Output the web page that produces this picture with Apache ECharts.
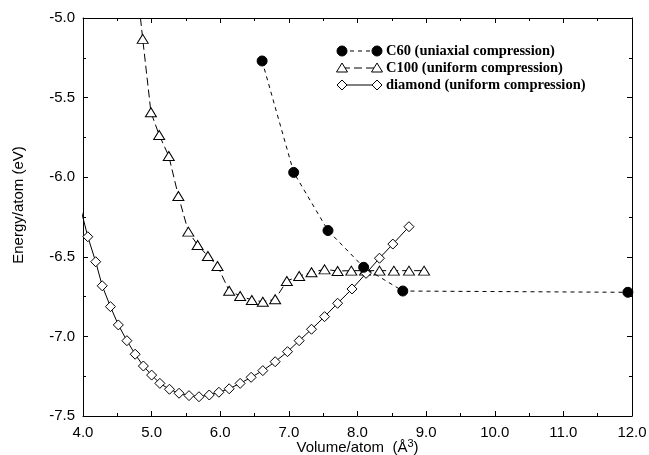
<!DOCTYPE html>
<html>
<head>
<meta charset="utf-8">
<script src="https://cdn.jsdelivr.net/npm/echarts@6/dist/echarts.min.js"></script>
<style>
  html, body { margin: 0; padding: 0; background: #fff; }
  #chart { width: 649px; height: 455px; }
</style>
</head>
<body>
<div id="chart"></div>
<script>
// values
const xTicks = [4, 5, 6, 7, 8, 9, 10, 11, 12];
const yTicks = [-7.5, -7.0, -6.5, -6.0, -5.5, -5.0];

const c60Vol = [6.61, 7.07, 7.57, 8.09, 8.66, 11.94];
const c60Energy = [-5.27, -5.97, -6.335, -6.566, -6.715, -6.723];

// first point lies outside the frame (the line runs off the top)
const c100Vol = [4.80, 4.87, 4.99, 5.11, 5.25, 5.39, 5.535, 5.67, 5.82, 5.96, 6.13, 6.29, 6.46, 6.62, 6.80,
  6.97, 7.15, 7.33, 7.52, 7.71, 7.91, 8.11, 8.32, 8.53, 8.75, 8.97];
const c100Energy = [-4.85, -5.131, -5.592, -5.735, -5.867, -6.118, -6.342, -6.426, -6.495, -6.558, -6.713, -6.746,
  -6.771, -6.782, -6.767, -6.652, -6.621, -6.597, -6.579, -6.589, -6.587, -6.587, -6.587, -6.587, -6.587, -6.587];

// first point lies outside the frame (the line runs off the left edge)
const diamondVol = [3.95, 4.07, 4.185, 4.28, 4.40, 4.515, 4.64, 4.76, 4.88, 5.00, 5.12, 5.26, 5.40, 5.545, 5.69,
  5.84, 5.98, 6.13, 6.29, 6.45, 6.62, 6.80, 6.98, 7.15, 7.33, 7.52, 7.71, 7.92, 8.125, 8.32, 8.515, 8.75];
const diamondEnergy = [-6.17, -6.374, -6.531, -6.682, -6.813, -6.928, -7.027, -7.112, -7.186, -7.243, -7.295, -7.332,
  -7.357, -7.372, -7.379, -7.368, -7.351, -7.329, -7.295, -7.257, -7.215, -7.159, -7.096, -7.027, -6.955,
  -6.876, -6.792, -6.702, -6.604, -6.509, -6.420, -6.311];

const legendNames = ['C60 (uniaxial compression)', 'C100 (uniform compression)', 'diamond (uniform compression)'];

const chart = echarts.init(document.getElementById('chart'), null, { renderer: 'canvas' });

const labelFont = 'Liberation Sans, Arial, sans-serif';
const tickColor = '#000';

function pts(xs, ys) {
  return xs.map(function (x, i) {
    const item = { value: [x, ys[i]] };
    // points beyond the frame only carry the line, no marker
    if (x < xTicks[0] || ys[i] > yTicks[yTicks.length - 1]) item.symbol = 'none';
    return item;
  });
}

// legend drawn like the original: marker - line - marker, then text
const legendX1 = 342, legendX2 = 377, legendTextX = 386;
const legendRows = [51, 68, 85];
function markerShape(kind, cx, cy) {
  if (kind === 'circle') {
    return { type: 'circle', shape: { cx: cx, cy: cy, r: 5 }, style: { fill: '#000', stroke: '#000' } };
  }
  if (kind === 'triangle') {
    return { type: 'polygon', shape: { points: [[cx, cy - 5], [cx + 5.5, cy + 4], [cx - 5.5, cy + 4]] },
      style: { fill: '#fff', stroke: '#000', lineWidth: 1 } };
  }
  return { type: 'polygon', shape: { points: [[cx, cy - 5], [cx + 5, cy], [cx, cy + 5], [cx - 5, cy]] },
    style: { fill: '#fff', stroke: '#000', lineWidth: 1 } };
}
const legendKinds = ['circle', 'triangle', 'diamond'];
const legendDash = [[4, 4], [8, 4], null];
const graphics = [];
legendRows.forEach(function (y, i) {
  graphics.push({
    type: 'line', shape: { x1: legendX1, y1: y, x2: legendX2, y2: y },
    style: { stroke: '#000', lineWidth: 1, lineDash: legendDash[i] }
  });
  graphics.push(markerShape(legendKinds[i], legendX1, y));
  graphics.push(markerShape(legendKinds[i], legendX2, y));
  graphics.push({
    type: 'text', x: legendTextX, y: y,
    style: { text: legendNames[i], fill: '#000', font: 'bold 14.5px "Liberation Serif", "Times New Roman", serif',
      verticalAlign: 'middle', align: 'left' }
  });
});

const baseX = {
  type: 'value', min: 4, max: 12, interval: 1,
  axisLine: { show: true, onZero: false, lineStyle: { color: '#000', width: 1 } },
  axisTick: { show: true, inside: true, length: 5, lineStyle: { color: tickColor } },
  minorTick: { show: true, splitNumber: 2, length: 3, lineStyle: { color: tickColor } },
  splitLine: { show: false }
};
const baseY = {
  type: 'value', min: -7.5, max: -5.0, interval: 0.5,
  axisLine: { show: true, onZero: false, lineStyle: { color: '#000', width: 1 } },
  axisTick: { show: true, inside: true, length: 5, lineStyle: { color: tickColor } },
  minorTick: { show: true, splitNumber: 2, length: 3, lineStyle: { color: tickColor } },
  splitLine: { show: false }
};

const option = {
  backgroundColor: '#fff',
  animation: false,
  grid: { left: 83, right: 17, top: 18, bottom: 39, containLabel: false, outerBoundsMode: 'none' },
  xAxis: [
    Object.assign({}, baseX, {
      position: 'bottom',
      name: 'Volume/atom  (Å{sup|3})',
      nameLocation: 'middle',
      nameGap: 22,
      nameMoveOverlap: false,
      nameTextStyle: {
        fontFamily: labelFont, fontSize: 15, color: '#000',
        rich: { sup: { fontSize: 11, verticalAlign: 'top', padding: [0, 0, 8, 0], fontFamily: labelFont } }
      },
      axisLabel: { margin: 9, fontFamily: labelFont, fontSize: 15, color: '#000',
        formatter: function (v) { return v.toFixed(1); } }
    }),
    Object.assign({}, baseX, { position: 'top', axisLabel: { show: false } })
  ],
  yAxis: [
    Object.assign({}, baseY, {
      position: 'left',
      name: 'Energy/atom (eV)',
      nameLocation: 'middle',
      nameGap: 57,
      nameMoveOverlap: false,
      nameTextStyle: { fontFamily: labelFont, fontSize: 15, color: '#000', padding: [0, 0, 0, 24] },
      axisLabel: { margin: 8, fontFamily: labelFont, fontSize: 15, color: '#000',
        formatter: function (v) { return v.toFixed(1); } }
    }),
    Object.assign({}, baseY, { position: 'right', axisLabel: { show: false } })
  ],
  graphic: graphics,
  series: [
    {
      name: legendNames[2], type: 'line', data: pts(diamondVol, diamondEnergy),
      symbol: 'diamond', symbolSize: 10, clip: true,
      lineStyle: { color: '#000', width: 1 },
      itemStyle: { color: '#fff', borderColor: '#000', borderWidth: 1 },
      z: 3
    },
    {
      name: legendNames[1], type: 'line', data: pts(c100Vol, c100Energy),
      symbol: 'triangle', symbolSize: [11, 9], clip: true,
      lineStyle: { color: '#000', width: 1, type: [8, 4] },
      itemStyle: { color: '#fff', borderColor: '#000', borderWidth: 1 },
      z: 2
    },
    {
      name: legendNames[0], type: 'line', data: pts(c60Vol, c60Energy),
      symbol: 'circle', symbolSize: 10, clip: false,
      lineStyle: { color: '#000', width: 1, type: [4, 4] },
      itemStyle: { color: '#000', borderColor: '#000', borderWidth: 1 },
      z: 4
    }
  ]
};

chart.setOption(option);
</script>
</body>
</html>
